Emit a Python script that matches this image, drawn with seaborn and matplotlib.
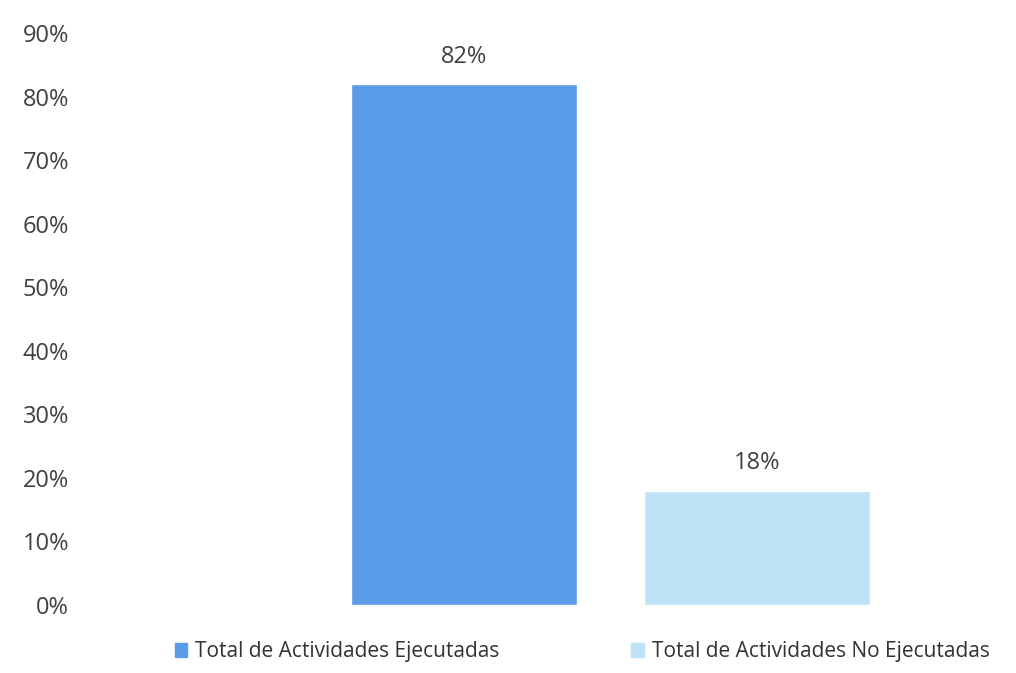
import matplotlib
matplotlib.use("Agg")
import matplotlib.pyplot as plt
import seaborn as sns
import pandas as pd
from matplotlib.ticker import PercentFormatter

# Datos del gráfico
categorias = ["Total de Actividades Ejecutadas", "Total de Actividades No Ejecutadas"]
valores = [0.82, 0.18]
etiquetas = ["82%", "18%"]
colores = ["#5B9CE8", "#BEE3F6"]

df = pd.DataFrame({"Categoria": categorias, "Valor": valores})

sns.set_style("white")
plt.rcParams["font.family"] = ["Open Sans", "DejaVu Sans"]

fig = plt.figure(figsize=(10.16, 6.73), dpi=100)
ax = fig.add_axes([0.098, 0.101, 0.89, 0.85])

sns.barplot(data=df, x="Categoria", y="Valor", hue="Categoria",
            palette=colores, width=0.773, saturation=1, legend=False, ax=ax)

ax.set_ylim(0, 0.9)
ax.set_xlim(-1.246, 1.845)
ax.set_yticks([i / 10 for i in range(10)])
ax.yaxis.set_major_formatter(PercentFormatter(1.0, decimals=0))
ax.tick_params(axis="y", labelsize=17, labelcolor="#404040", length=0, pad=22)
ax.set_xticks([])
ax.set_xlabel("")
ax.set_ylabel("")
sns.despine(ax=ax, left=True, bottom=True)

# Etiquetas sobre las barras
for p, txt in zip(ax.patches, etiquetas):
    ax.annotate(txt, (p.get_x() + p.get_width() / 2, p.get_height()),
                ha="center", va="bottom", xytext=(0, 11), textcoords="offset points",
                fontsize=17, color="#404040")

# Leyenda abajo
handles = [plt.Rectangle((0, 0), 1, 1, color=c) for c in colores]
fig.legend(handles, categorias, loc="lower center", bbox_to_anchor=(0.573, -0.012),
           ncol=2, frameon=False, fontsize=15, labelcolor="#333333",
           handlelength=0.6, handleheight=0.6, handletextpad=0.4, columnspacing=6.3)

plt.savefig("out.png", dpi=100)
